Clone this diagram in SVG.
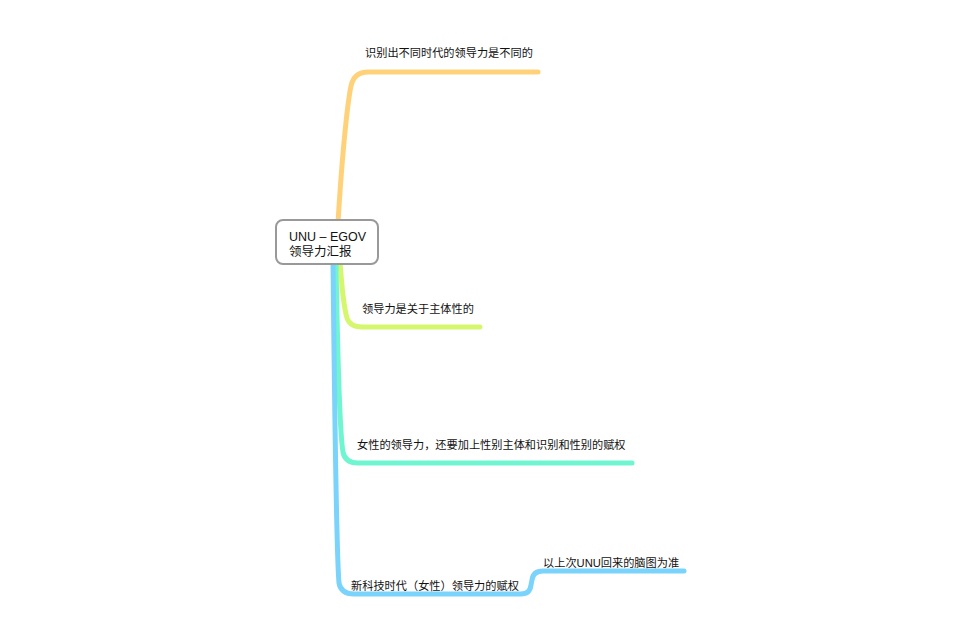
<svg xmlns="http://www.w3.org/2000/svg" width="960" height="640" viewBox="0 0 960 640">
<style>
.c{fill:none;stroke-width:5;stroke-linecap:round;stroke-linejoin:round}
.t{font-family:"Liberation Sans","Noto Sans CJK SC",sans-serif;font-size:11.2px;fill:#111}
.r{font-size:12.5px}
.n{fill:#fff;stroke:#999;stroke-width:2}
</style>
<rect width="960" height="640" fill="#fff"/>
<g id="connectors">
<path class="c" stroke="#FFD27A" d="M337,240 C342,150 348,100 351,86 Q354,72 368,72 L538,72"/>
<path class="c" stroke="#D4F76E" d="M340,262 C342,290 344,308 347,318 Q350,327 362,327 L480,327"/>
<path class="c" stroke="#6FF5D0" d="M336,262 C338,380 340,435 343,452 Q345,463 358,463 L632,463"/>
<path class="c" stroke="#7AD3FB" d="M333,262 C335,450 337,560 339,583 Q341,594 354,594 L521,594 Q530,594 531,585 L532,580 Q533,571 543,571 L684,571"/>
</g>
<g id="root">
<rect class="n" x="276" y="220" width="102" height="44" rx="7"/>
<text class="t r" x="289" y="241">UNU – EGOV</text>
<text class="t r" x="289" y="256">领导力汇报</text>
</g>
<g id="n1"><text class="t" x="365" y="57">识别出不同时代的领导力是不同的</text></g>
<g id="n2"><text class="t" x="362" y="313">领导力是关于主体性的</text></g>
<g id="n3"><text class="t" x="357" y="449">女性的领导力，还要加上性别主体和识别和性别的赋权</text></g>
<g id="n4"><text class="t" x="351" y="590">新科技时代（女性）领导力的赋权</text></g>
<g id="n5"><text class="t" x="543" y="567">以上次UNU回来的脑图为准</text></g>
</svg>
